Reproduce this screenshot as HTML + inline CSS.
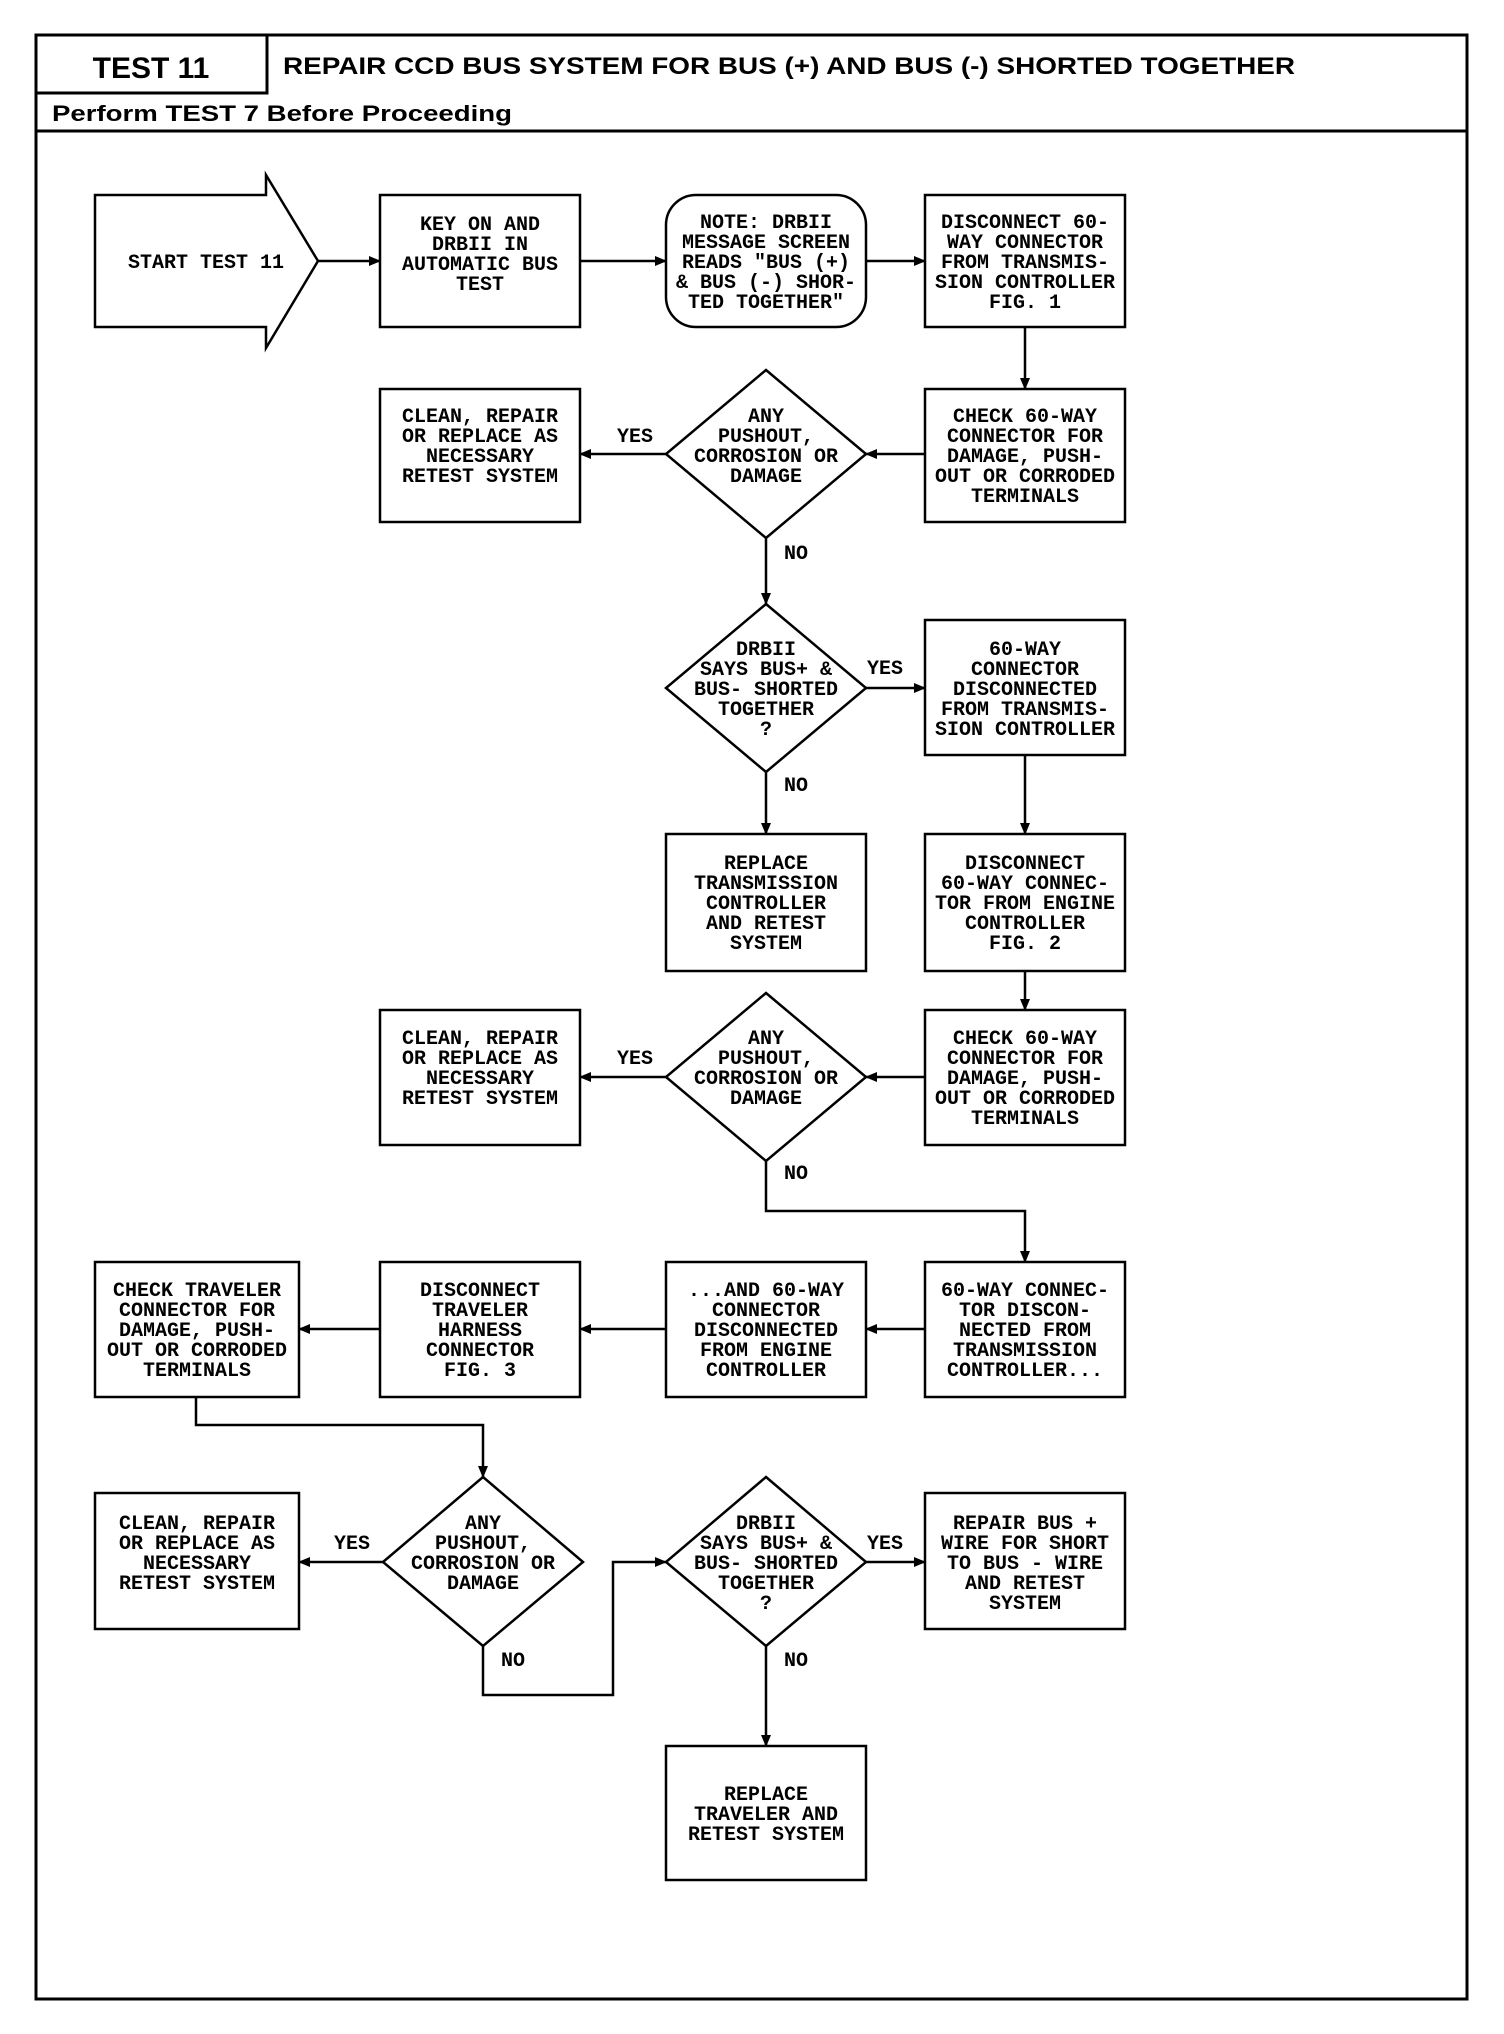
<!DOCTYPE html>
<html><head><meta charset="utf-8"><style>
html,body{margin:0;padding:0;background:#fff;}
svg{display:block;}
.t{font-family:"Liberation Mono",monospace;font-size:20px;font-weight:bold;text-anchor:middle;fill:#000;}
.h{font-family:"Liberation Sans",sans-serif;font-weight:bold;fill:#000;}
</style></head><body>
<svg width="1504" height="2034" viewBox="0 0 1504 2034" xmlns="http://www.w3.org/2000/svg">
<defs><marker id="a" markerWidth="12" markerHeight="10" refX="11" refY="5" orient="auto" markerUnits="userSpaceOnUse"><path d="M0,0 L12,5 L0,10 z" fill="#000"/></marker></defs>
<g fill="none" stroke="#000" stroke-width="3">
<rect x="36" y="35" width="1431" height="1964"/>
<path d="M267,35 V93 H36"/>
<path d="M36,131 H1467"/>
</g>
<text class="h" x="151" y="78" font-size="30" text-anchor="middle">TEST 11</text>
<text class="h" x="283" y="74" font-size="24" textLength="1012" lengthAdjust="spacingAndGlyphs">REPAIR CCD BUS SYSTEM FOR BUS (+) AND BUS (-) SHORTED TOGETHER</text>
<text class="h" x="52" y="121" font-size="22" textLength="460" lengthAdjust="spacingAndGlyphs">Perform TEST 7 Before Proceeding</text>

<g fill="none" stroke="#000" stroke-width="2.5">
<polygon points="95,195 266,195 266,175 318,261 266,348 266,327 95,327"/>
<rect x="380" y="195" width="200" height="132"/>
<rect x="666" y="195" width="200" height="132" rx="30"/>
<rect x="925" y="195" width="200" height="132"/>
<rect x="380" y="389" width="200" height="133"/>
<polygon points="766,370 866,454 766,538 666,454"/>
<rect x="925" y="389" width="200" height="133"/>
<polygon points="766,604 866,688 766,772 666,688"/>
<rect x="925" y="620" width="200" height="135"/>
<rect x="666" y="834" width="200" height="137"/>
<rect x="925" y="834" width="200" height="137"/>
<rect x="380" y="1010" width="200" height="135"/>
<polygon points="766,993 866,1077 766,1161 666,1077"/>
<rect x="925" y="1010" width="200" height="135"/>
<rect x="95" y="1262" width="204" height="135"/>
<rect x="380" y="1262" width="200" height="135"/>
<rect x="666" y="1262" width="200" height="135"/>
<rect x="925" y="1262" width="200" height="135"/>
<polygon points="483,1477 583,1562 483,1646 383,1562"/>
<rect x="95" y="1493" width="204" height="136"/>
<polygon points="766,1477 866,1562 766,1646 666,1562"/>
<rect x="925" y="1493" width="200" height="136"/>
<rect x="666" y="1746" width="200" height="134"/>
</g>
<g fill="none" stroke="#000" stroke-width="2.5" marker-end="url(#a)">
<path d="M318,261 H380"/>
<path d="M580,261 H666"/>
<path d="M866,261 H925"/>
<path d="M1025,327 V389"/>
<path d="M925,454 H866"/>
<path d="M666,454 H580"/>
<path d="M766,538 V604"/>
<path d="M866,688 H925"/>
<path d="M766,772 V834"/>
<path d="M1025,755 V834"/>
<path d="M1025,971 V1010"/>
<path d="M925,1077 H866"/>
<path d="M666,1077 H580"/>
<path d="M766,1161 V1211 H1025 V1262"/>
<path d="M925,1329 H866"/>
<path d="M666,1329 H580"/>
<path d="M380,1329 H299"/>
<path d="M196,1397 V1425 H483 V1477"/>
<path d="M383,1562 H299"/>
<path d="M483,1646 V1695 H613 V1562 H666"/>
<path d="M866,1562 H925"/>
<path d="M766,1646 V1746"/>
</g>

<g class="t">
<text x="206" y="268">START TEST 11</text>
<text x="480" y="230"><tspan x="480">KEY ON AND</tspan><tspan x="480" dy="20">DRBII IN</tspan><tspan x="480" dy="20">AUTOMATIC BUS</tspan><tspan x="480" dy="20">TEST</tspan></text>
<text x="766" y="228"><tspan x="766">NOTE: DRBII</tspan><tspan x="766" dy="20">MESSAGE SCREEN</tspan><tspan x="766" dy="20">READS "BUS (+)</tspan><tspan x="766" dy="20">&amp; BUS (-) SHOR-</tspan><tspan x="766" dy="20">TED TOGETHER"</tspan></text>
<text x="1025" y="228"><tspan x="1025">DISCONNECT 60-</tspan><tspan x="1025" dy="20">WAY CONNECTOR</tspan><tspan x="1025" dy="20">FROM TRANSMIS-</tspan><tspan x="1025" dy="20">SION CONTROLLER</tspan><tspan x="1025" dy="20">FIG. 1</tspan></text>

<text x="480" y="422"><tspan x="480">CLEAN, REPAIR</tspan><tspan x="480" dy="20">OR REPLACE AS</tspan><tspan x="480" dy="20">NECESSARY</tspan><tspan x="480" dy="20">RETEST SYSTEM</tspan></text>
<text x="766" y="422"><tspan x="766">ANY</tspan><tspan x="766" dy="20">PUSHOUT,</tspan><tspan x="766" dy="20">CORROSION OR</tspan><tspan x="766" dy="20">DAMAGE</tspan></text>
<text x="1025" y="422"><tspan x="1025">CHECK 60-WAY</tspan><tspan x="1025" dy="20">CONNECTOR FOR</tspan><tspan x="1025" dy="20">DAMAGE, PUSH-</tspan><tspan x="1025" dy="20">OUT OR CORRODED</tspan><tspan x="1025" dy="20">TERMINALS</tspan></text>
<text x="635" y="442">YES</text><text x="796" y="559">NO</text>

<text x="766" y="655"><tspan x="766">DRBII</tspan><tspan x="766" dy="20">SAYS BUS+ &amp;</tspan><tspan x="766" dy="20">BUS- SHORTED</tspan><tspan x="766" dy="20">TOGETHER</tspan><tspan x="766" dy="20">?</tspan></text>
<text x="1025" y="655"><tspan x="1025">60-WAY</tspan><tspan x="1025" dy="20">CONNECTOR</tspan><tspan x="1025" dy="20">DISCONNECTED</tspan><tspan x="1025" dy="20">FROM TRANSMIS-</tspan><tspan x="1025" dy="20">SION CONTROLLER</tspan></text>
<text x="885" y="674">YES</text><text x="796" y="791">NO</text>

<text x="766" y="869"><tspan x="766">REPLACE</tspan><tspan x="766" dy="20">TRANSMISSION</tspan><tspan x="766" dy="20">CONTROLLER</tspan><tspan x="766" dy="20">AND RETEST</tspan><tspan x="766" dy="20">SYSTEM</tspan></text>
<text x="1025" y="869"><tspan x="1025">DISCONNECT</tspan><tspan x="1025" dy="20">60-WAY CONNEC-</tspan><tspan x="1025" dy="20">TOR FROM ENGINE</tspan><tspan x="1025" dy="20">CONTROLLER</tspan><tspan x="1025" dy="20">FIG. 2</tspan></text>

<text x="480" y="1044"><tspan x="480">CLEAN, REPAIR</tspan><tspan x="480" dy="20">OR REPLACE AS</tspan><tspan x="480" dy="20">NECESSARY</tspan><tspan x="480" dy="20">RETEST SYSTEM</tspan></text>
<text x="766" y="1044"><tspan x="766">ANY</tspan><tspan x="766" dy="20">PUSHOUT,</tspan><tspan x="766" dy="20">CORROSION OR</tspan><tspan x="766" dy="20">DAMAGE</tspan></text>
<text x="1025" y="1044"><tspan x="1025">CHECK 60-WAY</tspan><tspan x="1025" dy="20">CONNECTOR FOR</tspan><tspan x="1025" dy="20">DAMAGE, PUSH-</tspan><tspan x="1025" dy="20">OUT OR CORRODED</tspan><tspan x="1025" dy="20">TERMINALS</tspan></text>
<text x="635" y="1064">YES</text><text x="796" y="1179">NO</text>

<text x="197" y="1296"><tspan x="197">CHECK TRAVELER</tspan><tspan x="197" dy="20">CONNECTOR FOR</tspan><tspan x="197" dy="20">DAMAGE, PUSH-</tspan><tspan x="197" dy="20">OUT OR CORRODED</tspan><tspan x="197" dy="20">TERMINALS</tspan></text>
<text x="480" y="1296"><tspan x="480">DISCONNECT</tspan><tspan x="480" dy="20">TRAVELER</tspan><tspan x="480" dy="20">HARNESS</tspan><tspan x="480" dy="20">CONNECTOR</tspan><tspan x="480" dy="20">FIG. 3</tspan></text>
<text x="766" y="1296"><tspan x="766">...AND 60-WAY</tspan><tspan x="766" dy="20">CONNECTOR</tspan><tspan x="766" dy="20">DISCONNECTED</tspan><tspan x="766" dy="20">FROM ENGINE</tspan><tspan x="766" dy="20">CONTROLLER</tspan></text>
<text x="1025" y="1296"><tspan x="1025">60-WAY CONNEC-</tspan><tspan x="1025" dy="20">TOR DISCON-</tspan><tspan x="1025" dy="20">NECTED FROM</tspan><tspan x="1025" dy="20">TRANSMISSION</tspan><tspan x="1025" dy="20">CONTROLLER...</tspan></text>

<text x="197" y="1529"><tspan x="197">CLEAN, REPAIR</tspan><tspan x="197" dy="20">OR REPLACE AS</tspan><tspan x="197" dy="20">NECESSARY</tspan><tspan x="197" dy="20">RETEST SYSTEM</tspan></text>
<text x="483" y="1529"><tspan x="483">ANY</tspan><tspan x="483" dy="20">PUSHOUT,</tspan><tspan x="483" dy="20">CORROSION OR</tspan><tspan x="483" dy="20">DAMAGE</tspan></text>
<text x="766" y="1529"><tspan x="766">DRBII</tspan><tspan x="766" dy="20">SAYS BUS+ &amp;</tspan><tspan x="766" dy="20">BUS- SHORTED</tspan><tspan x="766" dy="20">TOGETHER</tspan><tspan x="766" dy="20">?</tspan></text>
<text x="1025" y="1529"><tspan x="1025">REPAIR BUS +</tspan><tspan x="1025" dy="20">WIRE FOR SHORT</tspan><tspan x="1025" dy="20">TO BUS - WIRE</tspan><tspan x="1025" dy="20">AND RETEST</tspan><tspan x="1025" dy="20">SYSTEM</tspan></text>
<text x="352" y="1549">YES</text><text x="885" y="1549">YES</text>
<text x="513" y="1666">NO</text><text x="796" y="1666">NO</text>

<text x="766" y="1800"><tspan x="766">REPLACE</tspan><tspan x="766" dy="20">TRAVELER AND</tspan><tspan x="766" dy="20">RETEST SYSTEM</tspan></text>
</g>
</svg>
</body></html>
